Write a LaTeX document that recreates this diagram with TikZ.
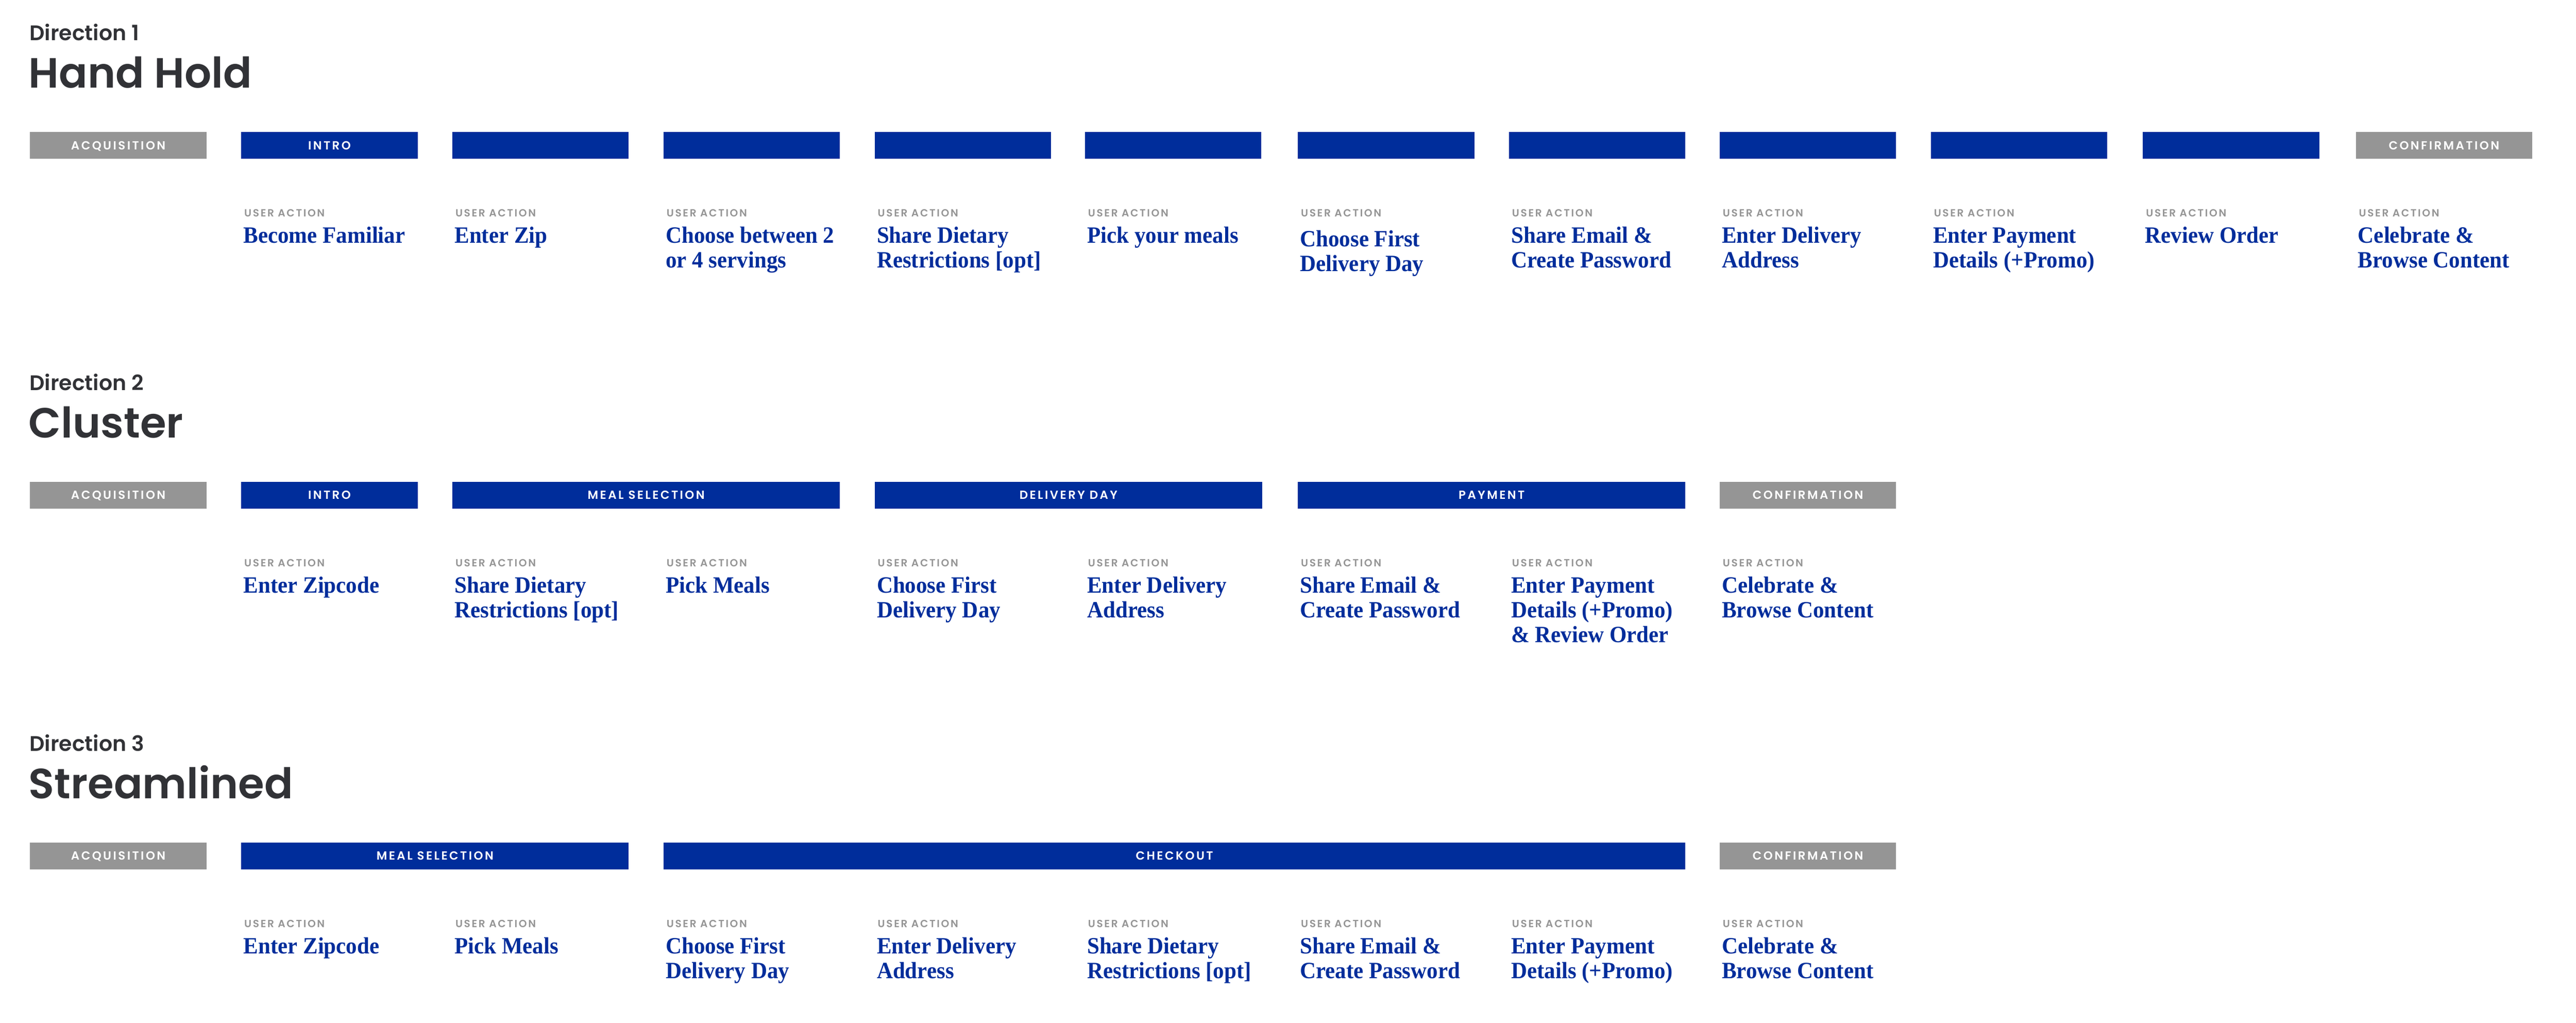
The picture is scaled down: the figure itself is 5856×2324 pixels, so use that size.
\documentclass[tikz,border=0pt]{standalone}
\usepackage{fontspec}
\setmainfont{Liberation Serif}
\newfontfamily\headfont{Poppins SemiBold}
\newfontfamily\labelfont{Poppins SemiBold}[LetterSpace=15]
\newfontfamily\uafont{Poppins SemiBold}[LetterSpace=13]
\newfontfamily\bodyfont{Liberation Serif Bold}[FakeStretch=0.95]
\definecolor{dblue}{HTML}{002D9B}
\definecolor{dgray}{HTML}{959595}
\definecolor{dark}{HTML}{313236}
\newcommand\MyTwo[2]{\vtop{\hbox{#1}\hbox{#2}}}
\newcommand\MyThree[3]{\vtop{\hbox{#1}\hbox{#2}\hbox{#3}}}
\begin{document}
\begin{tikzpicture}[x=0.5pt,y=-0.5pt,
  barbase/.style={draw=none, inner sep=0pt, minimum height=30pt, anchor=north west,
    text=white, font=\labelfont\fontsize{13.4}{13.4}\selectfont, text height=9.3pt, text depth=0pt},
  bluebar/.style={barbase, fill=dblue},
  graybar/.style={barbase, fill=dgray},
  dirtext/.style={anchor=base west, inner sep=0pt, text=dark, font=\headfont\fontsize{24}{24}\selectfont},
  titletext/.style={anchor=base west, inner sep=0pt, text=dark, font=\headfont\fontsize{48}{48}\selectfont},
  uatext/.style={anchor=base west, inner sep=0pt, text=dgray, font=\uafont\fontsize{11.8}{11.8}\selectfont},
  bodytext/.style={anchor=base west, inner sep=0pt, text=dblue, font=\bodyfont\fontsize{26.5}{28.3}\selectfont},
  one/.style={minimum width=200.5pt},
  two/.style={minimum width=440.5pt},
]
\useasboundingbox (0,0) rectangle (5856,2324);

% ---------------- Direction 1 ----------------
\node[dirtext] (d1) at (67,92) {Direction 1};
\node[titletext] (t1) at (65,200) {Hand Hold};

\node[graybar,one] (r1b0) at (68,300) {ACQUISITION};
\node[bluebar,one] (r1b1) at (548,300) {INTRO};
\node[bluebar,one] (r1b2) at (1028,300) {};
\node[bluebar,one] (r1b3) at (1508,300) {};
\node[bluebar,one] (r1b4) at (1988,300) {};
\node[bluebar,one] (r1b5) at (2466,300) {};
\node[bluebar,one] (r1b6) at (2950,300) {};
\node[bluebar,one] (r1b7) at (3430,300) {};
\node[bluebar,one] (r1b8) at (3909,300) {};
\node[bluebar,one] (r1b9) at (4389,300) {};
\node[bluebar,one] (r1b10) at (4871,300) {};
\node[graybar,one] (r1b11) at (5355,300) {CONFIRMATION};

\node[uatext] (r1u1) at (555,493) {USER ACTION};
\node[uatext] (r1u2) at (1035,493) {USER ACTION};
\node[uatext] (r1u3) at (1515,493) {USER ACTION};
\node[uatext] (r1u4) at (1995,493) {USER ACTION};
\node[uatext] (r1u5) at (2473,493) {USER ACTION};
\node[uatext] (r1u6) at (2957,493) {USER ACTION};
\node[uatext] (r1u7) at (3437,493) {USER ACTION};
\node[uatext] (r1u8) at (3916,493) {USER ACTION};
\node[uatext] (r1u9) at (4396,493) {USER ACTION};
\node[uatext] (r1u10) at (4878,493) {USER ACTION};
\node[uatext] (r1u11) at (5362,493) {USER ACTION};

\node[bodytext] (r1t1) at (553,552) {Become Familiar};
\node[bodytext] (r1t2) at (1033,552) {Enter Zip};
\node[bodytext] (r1t3) at (1513,552) {\MyTwo{Choose between 2}{or 4 servings}};
\node[bodytext] (r1t4) at (1993,552) {\MyTwo{Share Dietary}{Restrictions [opt]}};
\node[bodytext] (r1t5) at (2471,552) {Pick your meals};
\node[bodytext] (r1t6) at (2955,560) {\MyTwo{Choose First}{Delivery Day}};
\node[bodytext] (r1t7) at (3435,552) {\MyTwo{Share Email \&}{Create Password}};
\node[bodytext] (r1t8) at (3914,552) {\MyTwo{Enter Delivery}{Address}};
\node[bodytext] (r1t9) at (4394,552) {\MyTwo{Enter Payment}{Details (+Promo)}};
\node[bodytext] (r1t10) at (4876,552) {Review Order};
\node[bodytext] (r1t11) at (5360,552) {\MyTwo{Celebrate \&}{Browse Content}};

% ---------------- Direction 2 ----------------
\node[dirtext] (d2) at (67,887) {Direction 2};
\node[titletext] (t2) at (65,995) {Cluster};

\node[graybar,one] (r2b0) at (68,1095) {ACQUISITION};
\node[bluebar,one] (r2b1) at (548,1095) {INTRO};
\node[bluebar,two] (r2b2) at (1028,1095) {MEAL SELECTION};
\node[bluebar,two] (r2b4) at (1988,1095) {DELIVERY DAY};
\node[bluebar,two] (r2b6) at (2950,1095) {PAYMENT};
\node[graybar,one] (r2b8) at (3909,1095) {CONFIRMATION};

\node[uatext] (r2u1) at (555,1288) {USER ACTION};
\node[uatext] (r2u2) at (1035,1288) {USER ACTION};
\node[uatext] (r2u3) at (1515,1288) {USER ACTION};
\node[uatext] (r2u4) at (1995,1288) {USER ACTION};
\node[uatext] (r2u5) at (2473,1288) {USER ACTION};
\node[uatext] (r2u6) at (2957,1288) {USER ACTION};
\node[uatext] (r2u7) at (3437,1288) {USER ACTION};
\node[uatext] (r2u8) at (3916,1288) {USER ACTION};

\node[bodytext] (r2t1) at (553,1347) {Enter Zipcode};
\node[bodytext] (r2t2) at (1033,1347) {\MyTwo{Share Dietary}{Restrictions [opt]}};
\node[bodytext] (r2t3) at (1513,1347) {Pick Meals};
\node[bodytext] (r2t4) at (1993,1347) {\MyTwo{Choose First}{Delivery Day}};
\node[bodytext] (r2t5) at (2471,1347) {\MyTwo{Enter Delivery}{Address}};
\node[bodytext] (r2t6) at (2955,1347) {\MyTwo{Share Email \&}{Create Password}};
\node[bodytext] (r2t7) at (3435,1347) {\MyThree{Enter Payment}{Details (+Promo)}{\& Review Order}};
\node[bodytext] (r2t8) at (3914,1347) {\MyTwo{Celebrate \&}{Browse Content}};

% ---------------- Direction 3 ----------------
\node[dirtext] (d3) at (67,1707) {Direction 3};
\node[titletext] (t3) at (65,1815) {Streamlined};

\node[graybar,one] (r3b0) at (68,1915) {ACQUISITION};
\node[bluebar,two] (r3b1) at (548,1915) {MEAL SELECTION};
\node[bluebar,minimum width=1161.5pt] (r3b3) at (1508,1915) {CHECKOUT};
\node[graybar,one] (r3b8) at (3909,1915) {CONFIRMATION};

\node[uatext] (r3u1) at (555,2108) {USER ACTION};
\node[uatext] (r3u2) at (1035,2108) {USER ACTION};
\node[uatext] (r3u3) at (1515,2108) {USER ACTION};
\node[uatext] (r3u4) at (1995,2108) {USER ACTION};
\node[uatext] (r3u5) at (2473,2108) {USER ACTION};
\node[uatext] (r3u6) at (2957,2108) {USER ACTION};
\node[uatext] (r3u7) at (3437,2108) {USER ACTION};
\node[uatext] (r3u8) at (3916,2108) {USER ACTION};

\node[bodytext] (r3t1) at (553,2167) {Enter Zipcode};
\node[bodytext] (r3t2) at (1033,2167) {Pick Meals};
\node[bodytext] (r3t3) at (1513,2167) {\MyTwo{Choose First}{Delivery Day}};
\node[bodytext] (r3t4) at (1993,2167) {\MyTwo{Enter Delivery}{Address}};
\node[bodytext] (r3t5) at (2471,2167) {\MyTwo{Share Dietary}{Restrictions [opt]}};
\node[bodytext] (r3t6) at (2955,2167) {\MyTwo{Share Email \&}{Create Password}};
\node[bodytext] (r3t7) at (3435,2167) {\MyTwo{Enter Payment}{Details (+Promo)}};
\node[bodytext] (r3t8) at (3914,2167) {\MyTwo{Celebrate \&}{Browse Content}};
\end{tikzpicture}
\end{document}
